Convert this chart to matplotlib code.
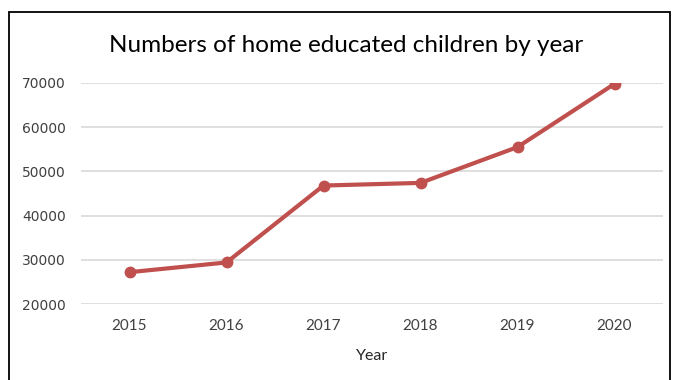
import matplotlib.pyplot as plt
from matplotlib.patches import Rectangle

years = ['2015', '2016', '2017', '2018', '2019', '2020']
children = [27200, 29400, 46800, 47400, 55500, 69800]
y_ticks = [20000, 30000, 40000, 50000, 60000, 70000]

plt.rcParams['font.family'] = ['Lato', 'DejaVu Sans']

W, H = 673, 380
fig = plt.figure(figsize=(W / 100, H / 100), dpi=100)
ax = fig.add_axes([81 / W, 1 - 304 / H, 582 / W, 221 / H])

x = range(len(years))
ax.plot(x, children, color='#C0504D', lw=3, marker='o', ms=7.5,
        solid_capstyle='round', solid_joinstyle='round')

ax.set_xlim(-0.5, len(years) - 0.5)
ax.set_ylim(y_ticks[0], y_ticks[-1])
ax.set_xticks(list(x))
ax.set_xticklabels(years, fontsize=11)
ax.set_yticks(y_ticks)
ax.set_yticklabels([str(v) for v in y_ticks], family='DejaVu Sans', fontsize=10)
ax.yaxis.grid(True, color='#D9D9D9', lw=1.2)
ax.set_axisbelow(True)
for s in ax.spines.values():
    s.set_visible(False)
ax.tick_params(length=0, colors='#404040')
ax.tick_params(axis='y', pad=11)
ax.tick_params(axis='x', pad=11)
ax.set_xlabel('Year', fontsize=11.5, color='#262626', labelpad=11)

fig.text(346 / W, 1 - 45 / H, 'Numbers of home educated children by year',
         ha='center', va='center', fontsize=17.5, color='black')

# outer chart border (bottom edge runs past the image)
fig.patches.append(Rectangle((9 / W, -0.05), 661 / W, 1.05 - 12 / H,
                             transform=fig.transFigure, fill=False,
                             edgecolor='black', lw=1.3))

fig.savefig('out.png', dpi=100)
